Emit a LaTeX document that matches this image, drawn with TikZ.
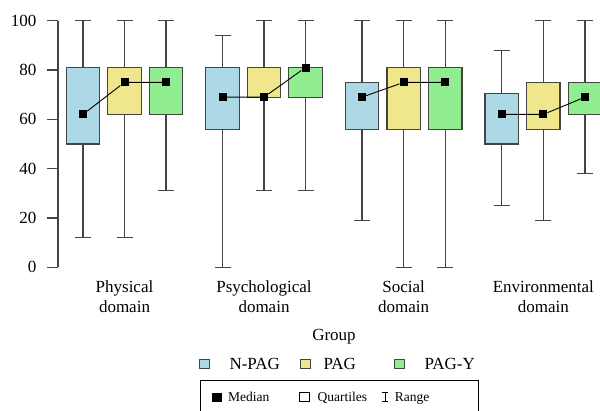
\documentclass[tikz,border=0pt]{standalone}
\usepackage{fontspec}
\setmainfont{Liberation Serif}
\definecolor{cnpag}{HTML}{ADD8E6}
\definecolor{cpag}{HTML}{F0E68C}
\definecolor{cpagy}{HTML}{90EE90}
\definecolor{edge}{HTML}{444444}
\newcommand{\bxplot}[8]{%
  \draw[whisk] (#1,#2) -- (#1,#3);
  \draw[whisk] (#1,#5) -- (#1,#6);
  \draw[whisk] (#1-8,#2) -- (#1+8,#2);
  \draw[whisk] (#1-8,#6) -- (#1+8,#6);
  \filldraw[boxst, fill=#7] (#1-16.7,#3) rectangle (#1+16.7,#5);
  \node[medsq] (#8) at (#1,#4) {};
}
\begin{document}
\begin{tikzpicture}[x=1pt,y=1pt,
  whisk/.style={draw=edge, line width=1.1pt},
  boxst/.style={draw=edge, line width=1.2pt},
  medsq/.style={fill=black, draw=none, minimum width=8pt, minimum height=8pt, inner sep=0pt},
  medline/.style={draw=black, line width=0.9pt},
  lab/.style={font=\fontsize{17}{20}\selectfont, text=black},
  small/.style={font=\fontsize{13.5}{16}\selectfont, text=black},
  legsq/.style={draw=edge, line width=1pt, minimum width=10pt, minimum height=9pt, inner sep=0pt},
]
\useasboundingbox (0,0) rectangle (600,410);
\clip (0,0) rectangle (600,410);
% axis
\begin{scope}[yshift=142.7pt, y=2.466pt]
  \draw[whisk] (58,0) -- (58,100);
  \foreach \v in {0,20,40,60,80,100}{
    \draw[whisk] (47,\v) -- (58,\v);
    \node[lab, anchor=east] (t\v) at (40,\v) {\v};
  }
  % Physical
  \bxplot{83}{12}{50}{62}{81}{100}{cnpag}{m11}
  \bxplot{124.5}{12}{62}{75}{81}{100}{cpag}{m12}
  \bxplot{166}{31}{62}{75}{81}{100}{cpagy}{m13}
  % Psychological
  \bxplot{222.5}{0}{56}{69}{81}{94}{cnpag}{m21}
  \bxplot{264}{31}{69}{69}{81}{100}{cpag}{m22}
  \bxplot{305.5}{31}{69}{81}{81}{100}{cpagy}{m23}
  % Social
  \bxplot{362}{19}{56}{69}{75}{100}{cnpag}{m31}
  \bxplot{403.7}{0}{56}{75}{81}{100}{cpag}{m32}
  \bxplot{445.3}{0}{56}{75}{81}{100}{cpagy}{m33}
  % Environmental
  \bxplot{501.7}{25}{50}{62}{70.5}{88}{cnpag}{m41}
  \bxplot{543.3}{19}{56}{62}{75}{100}{cpag}{m42}
  \bxplot{585}{38}{62}{69}{75}{100}{cpagy}{m43}
  \foreach \g in {1,2,3,4}{
    \draw[medline] (m\g1) -- (m\g2) -- (m\g3);
  }
\end{scope}
% domain labels
\node[lab, align=center] (d1) at (124.5,113.3) {Physical\\domain};
\node[lab, align=center] (d2) at (264,113.3) {Psychological\\domain};
\node[lab, align=center] (d3) at (403.7,113.3) {Social\\domain};
\node[lab, align=center] (d4) at (543.3,113.3) {Environmental\\domain};
% legend
\node[lab] (grp) at (334,73) {Group};
\node[legsq, fill=cnpag] (l1) at (204,46.5) {};
\node[lab, anchor=west] (lt1) at (226,46.5) {N-PAG};
\node[legsq, fill=cpag] (l2) at (305.5,46.5) {};
\node[lab, anchor=west] (lt2) at (320,46.5) {PAG};
\node[legsq, fill=cpagy] (l3) at (399,46.5) {};
\node[lab, anchor=west] (lt3) at (421,46.5) {PAG-Y};
% inner legend box
\draw[draw=black, line width=0.8pt] (200,-10) rectangle (478,30);
\node[fill=black, minimum width=10pt, minimum height=9pt, inner sep=0pt] (k1) at (217,13) {};
\node[small, anchor=base west] (kt1) at (224.7,8.3) {Median};
\node[draw=black, line width=0.8pt, fill=white, minimum width=10pt, minimum height=9pt, inner sep=0pt] (k2) at (304,13) {};
\node[small, anchor=base west] (kt2) at (314,8.3) {Quartiles};
\coordinate (r1) at (385,18);
\coordinate (r2) at (385,8.3);
\draw[line width=0.7pt] (r1) -- (r2);
\draw[line width=0.7pt] ([xshift=-3pt]r1) -- ([xshift=3pt]r1);
\draw[line width=0.7pt] ([xshift=-3pt]r2) -- ([xshift=3pt]r2);
\node[small, anchor=base west] (kt3) at (391.3,8.3) {Range};
\end{tikzpicture}
\end{document}
